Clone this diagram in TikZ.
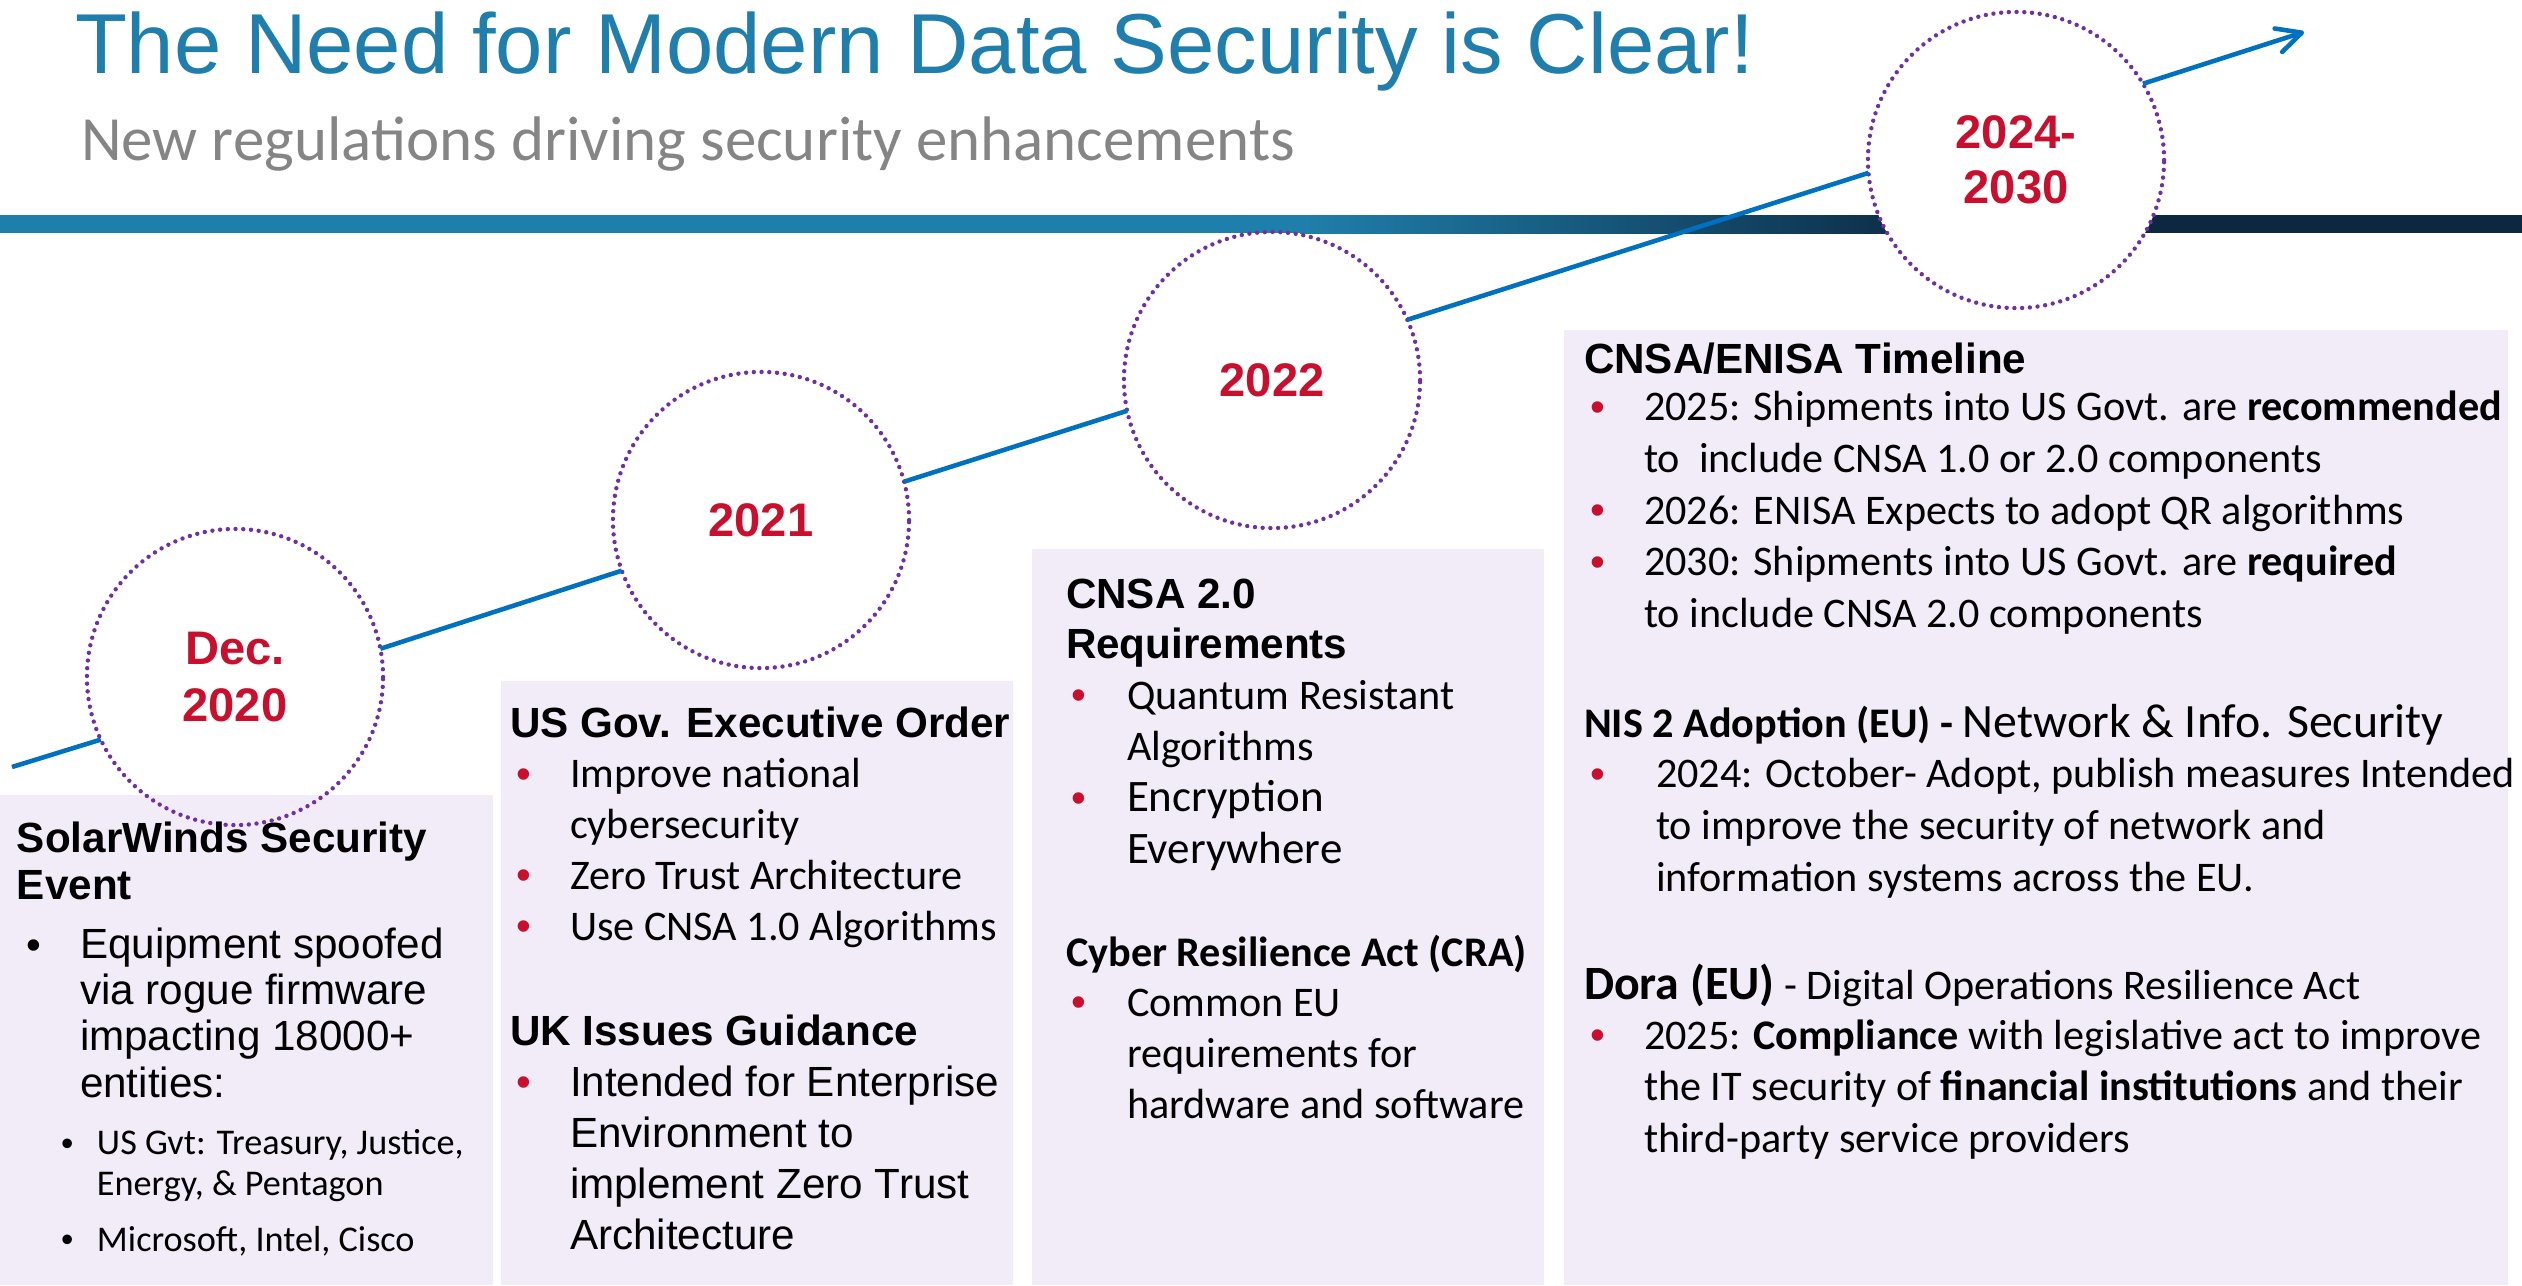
\documentclass[tikz,border=0pt]{standalone}
\usepackage{fontspec}
\setmainfont{Liberation Sans}
\newfontfamily\arialf{Liberation Sans}
\newfontfamily\calf{Carlito}
\usetikzlibrary{arrows.meta}

\definecolor{titleblue}{HTML}{1F7EAB}
\definecolor{subgray}{HTML}{858585}
\definecolor{barblue}{HTML}{1F7FAB}
\definecolor{barnavy}{HTML}{0C2841}
\definecolor{lineblue}{HTML}{0070C0}
\definecolor{circpurple}{HTML}{7030A0}
\definecolor{yearred}{HTML}{C8102E}
\definecolor{boxfill}{HTML}{F2ECF8}

\begin{document}
\begin{tikzpicture}[
    x=0.01cm, y=-0.01cm,
    txt/.style={anchor=base west, inner sep=0pt, outer sep=0pt, align=left},
    headar/.style={txt, font=\arialf\bfseries\fontsize{12}{#1}\selectfont},
    headcal/.style 2 args={txt, font=\calf\bfseries\fontsize{#1}{#2}\selectfont},
    artxt/.style={txt, font=\arialf\fontsize{12}{#1}\selectfont},
    caltxt/.style 2 args={txt, font=\calf\fontsize{#1}{#2}\selectfont},
    blk/.style={txt, font=\arialf\fontsize{12}{12}\selectfont},
    redblt/.style={blk, text=yearred},
    subblt/.style={txt, font=\arialf\fontsize{10}{10}\selectfont},
    yearcircle/.style={circle, draw=circpurple, line width=1.25pt,
        dash pattern=on 0pt off 2.2pt, line cap=round,
        minimum size=2.96cm, inner sep=0pt, outer sep=0pt, align=center,
        text=yearred, font=\arialf\bfseries\fontsize{13.4}{16.2}\selectfont},
    trend/.style={draw=lineblue, line width=1.3pt}
]
    \useasboundingbox (0,0) rectangle (2522,1285);

    % Heading
    \node[txt, text=titleblue, font=\arialf\fontsize{24.2}{28}\selectfont] (title) at (75,74)
        {The Need for Modern Data Security is Clear!};
    \node[txt, text=subgray, font=\calf\fontsize{17.9}{20}\selectfont] (subtitle) at (81,161)
        {New regulations driving security enhancements};

    % Header bar
    \fill[barblue] (0,215) rectangle (1300,233);
    \shade[left color=barblue, right color=barnavy] (1300,215) rectangle (1950,233);
    \fill[barnavy] (1950,215) rectangle (2522,233);

    % Panels
    \fill[boxfill] (0,795) rectangle (493,1285);
    \fill[boxfill] (501,681) rectangle (1013,1285);
    \fill[boxfill] (1032,549) rectangle (1544,1285);
    \fill[boxfill] (1564,330) rectangle (2508,1285);

    % Years
    \node[yearcircle] (dec) at (235,677) {Dec.\\2020};
    \node[yearcircle] (y21) at (761,520) {2021};
    \node[yearcircle] (y22) at (1272,380) {2022};
    \node[yearcircle, fill=white, font=\arialf\bfseries\fontsize{13.4}{15.6}\selectfont] (y24) at (2016,160) {2024-\\2030};

    % Trend line
    \coordinate (start) at (12,767);
    \coordinate (tip) at (2304,32);
    \draw[trend] (start) -- (dec.205);
    \draw[trend] (dec.11) -- (y21.200);
    \draw[trend] (y21.15) -- (y22.192);
    \draw[trend] (y22.24) -- (y24.185);
    \draw[trend, -{Straight Barb[length=7pt, width=7pt, round]}] (y24.31) -- (tip);

    % SolarWinds (multi-line nodes sit on their last baseline)
    \node[headar=13.2] (solarhd) at (17,899) {SolarWinds Security\\Event};
    \node[blk] (solarb1) at (26,959) {•};
    \node[artxt=13.1] (solart1) at (80,1097) {Equipment spoofed\\via rogue firmware\\impacting 18000+\\entities:};
    \node[subblt] (solarb2) at (61,1155) {•};
    \node[caltxt={10.3}{11.5}] (solart2) at (97,1195) {US Gvt: Treasury, Justice,\\Energy, \& Pentagon};
    \node[subblt] (solarb3) at (61,1251) {•};
    \node[caltxt={10.3}{11.5}] (solart3) at (97,1251) {Microsoft, Intel, Cisco};

    % US executive order / UK guidance
    \node[headar=14.5] (govhd) at (510,737) {US Gov. Executive Order};
    \node[redblt] (govb1) at (516,788) {•};
    \node[caltxt={12}{14.3}] (govt1) at (570,838) {Improve national\\cybersecurity};
    \node[redblt] (govb2) at (516,889) {•};
    \node[caltxt={12}{14.3}] (govt2) at (570,889) {Zero Trust Architecture};
    \node[redblt] (govb3) at (516,940) {•};
    \node[caltxt={12}{14.3}] (govt3) at (570,940) {Use CNSA 1.0 Algorithms};
    \node[headar=14.5] (ukhd) at (510,1045) {UK Issues Guidance};
    \node[redblt] (ukb1) at (516,1096) {•};
    \node[artxt=14.5] (ukt1) at (570,1249) {Intended for Enterprise\\Environment to\\implement Zero Trust\\Architecture};

    % CNSA 2.0 / CRA
    \node[headar=14.2] (cnsahd) at (1066,658) {CNSA 2.0\\Requirements};
    \node[redblt] (cnsab1) at (1071,709) {•};
    \node[caltxt={12}{14.4}] (cnsat1) at (1127,760) {Quantum Resistant\\Algorithms};
    \node[redblt] (cnsab2) at (1071,812) {•};
    \node[caltxt={12.8}{14.6}] (cnsat2) at (1127,863) {Encryption\\Everywhere};
    \node[headcal={12}{14}] (crahd) at (1066,966) {Cyber Resilience Act (CRA)};
    \node[redblt] (crab1) at (1071,1016) {•};
    \node[caltxt={12}{14.5}] (crat1) at (1127,1118) {Common EU\\requirements for\\hardware and software};

    % CNSA/ENISA, NIS 2, Dora
    \node[headar=14] (enisahd) at (1584,373) {CNSA/ENISA Timeline};
    \node[redblt] (enisab1) at (1590,421) {•};
    \node[caltxt={12}{14.65}] (enisat1) at (1644,472) {2025: Shipments into US Govt. are \textbf{recommended}\\to\ \ include CNSA 1.0 or 2.0 components};
    \node[redblt] (enisab2) at (1590,524) {•};
    \node[caltxt={12}{14.65}] (enisat2) at (1644,524) {2026: ENISA Expects to adopt QR algorithms};
    \node[redblt] (enisab3) at (1590,576) {•};
    \node[caltxt={12}{14.65}] (enisat3) at (1644,627) {2030: Shipments into US Govt. are \textbf{required}\\to include CNSA 2.0 components};
    \node[caltxt={12}{14}] (nishd) at (1584,737) {\textbf{NIS 2 Adoption (EU) -} {\fontsize{13.6}{14}\selectfont Network \& Info. Security}};
    \node[redblt] (nisb1) at (1590,788) {•};
    \node[caltxt={12}{14.7}] (nist1) at (1656,891) {2024: October- Adopt, publish measures Intended\\to improve the security of network and\\information systems across the EU.};
    \node[caltxt={12}{14}] (dorahd) at (1584,999) {{\fontsize{13.6}{14}\selectfont\bfseries Dora (EU)} - Digital Operations Resilience Act};
    \node[redblt] (dorab1) at (1590,1049) {•};
    \node[caltxt={12}{14.6}] (dorat1) at (1644,1152) {2025: \textbf{Compliance} with legislative act to improve\\the IT security of \textbf{financial institutions} and their\\third-party service providers};
\end{tikzpicture}
\end{document}
